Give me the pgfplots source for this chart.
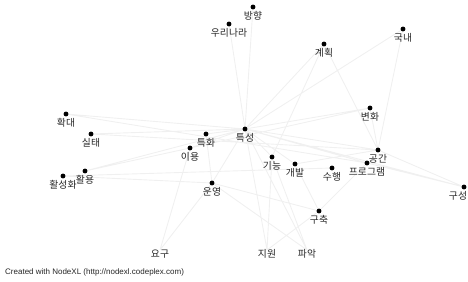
\documentclass[border=0pt]{standalone}
\usepackage{pgfplots}
\usepackage{pgfplotstable}
\pgfplotsset{compat=1.18}
\usepackage{fontspec}
\setmainfont{Liberation Sans}
\newfontfamily\kr{Noto Sans CJK KR}
\pgfplotstableread{
x y label
253 7 방향
229 24 우리나라
324 44 계획
403 29 국내
370 108 변화
245 129 특성
66 114 확대
91 134 실태
206 134 특화
190 148 이용
85 171 활용
63 176 활성화
272 157 기능
295 164 개발
332 168 수행
378 150 공간
367 163 프로그램
212 183 운영
319 211 구축
}\nodes
\pgfplotstableread{
x y label
464 187 구성
}\rightnodes
\pgfplotstableread{
x y label
160 254 요구
267 254 지원
307 254 파악
}\bottomnodes
\pgfplotstableread{
x y
253 7
245 129
nan nan
229 24
245 129
nan nan
324 44
245 129
nan nan
324 44
272 157
nan nan
324 44
378 150
nan nan
403 29
245 129
nan nan
403 29
378 150
nan nan
370 108
245 129
nan nan
370 108
378 150
nan nan
370 108
190 148
nan nan
245 129
66 114
nan nan
245 129
91 134
nan nan
245 129
85 171
nan nan
245 129
190 148
nan nan
245 129
206 134
nan nan
245 129
272 157
nan nan
245 129
295 164
nan nan
245 129
378 150
nan nan
245 129
367 163
nan nan
245 129
464 187
nan nan
245 129
212 183
nan nan
245 129
307 250
nan nan
245 129
267 250
nan nan
190 148
85 171
nan nan
190 148
160 250
nan nan
212 183
160 250
nan nan
212 183
63 176
nan nan
212 183
319 211
nan nan
212 183
307 250
nan nan
212 183
206 134
nan nan
319 211
267 250
nan nan
319 211
295 164
nan nan
319 211
367 163
nan nan
378 150
464 187
nan nan
367 163
464 187
nan nan
91 134
378 150
nan nan
63 176
332 168
nan nan
272 157
307 250
nan nan
272 157
267 250
nan nan
295 164
378 150
nan nan
206 134
212 183
nan nan
66 114
367 163
}\edges
\begin{document}
\begin{tikzpicture}
\begin{axis}[
  scale only axis, width=468pt, height=281pt,
  xmin=0, xmax=468, ymin=0, ymax=281, y dir=reverse,
  hide axis, clip=false, unbounded coords=jump,
]
\addplot[black!6, line width=0.9pt] table[x=x,y=y] {\edges};
\addplot[only marks, mark=*, mark size=2.2pt, black,
  nodes near coords, point meta=explicit symbolic,
  every node near coord/.append style={anchor=center, yshift=-9pt, inner sep=0pt, font=\kr\fontsize{9.8}{10}\selectfont, text=black!85}]
  table[x=x,y=y,meta=label] {\nodes};
\addplot[only marks, mark=*, mark size=2.2pt, black,
  nodes near coords, point meta=explicit symbolic,
  every node near coord/.append style={anchor=center, yshift=-9pt, xshift=-6pt, inner sep=0pt, font=\kr\fontsize{9.8}{10}\selectfont, text=black!85}]
  table[x=x,y=y,meta=label] {\rightnodes};
\addplot[only marks, mark=none,
  nodes near coords, point meta=explicit symbolic,
  every node near coord/.append style={anchor=center, inner sep=0pt, font=\kr\fontsize{9.8}{10}\selectfont, text=black!85}]
  table[x=x,y=y,meta=label] {\bottomnodes};
\node[anchor=west, inner sep=0pt, font=\fontsize{8}{9}\selectfont, text=black!85] at (axis cs:5,272) {Created with NodeXL (http://nodexl.codeplex.com)};
\end{axis}
\pgfresetboundingbox
\path (current axis.south west) rectangle (current axis.north east);
\end{tikzpicture}
\end{document}
